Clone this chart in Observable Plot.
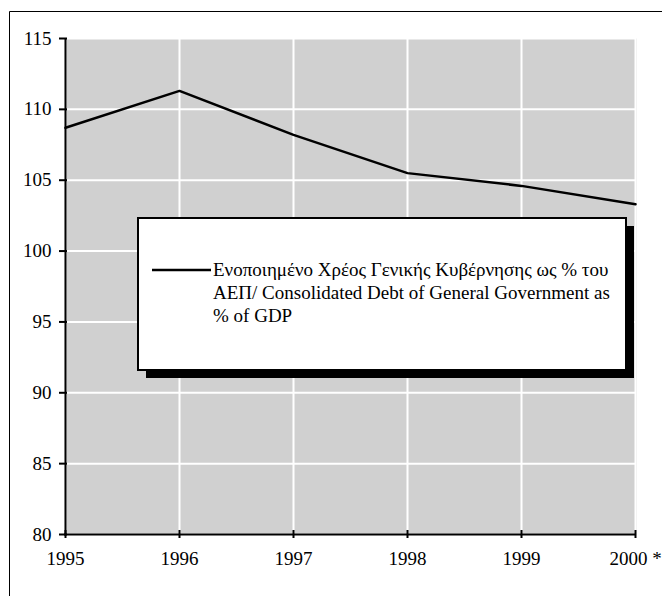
<!DOCTYPE html>
<html>
<head>
<meta charset="utf-8">
<script src="https://cdn.jsdelivr.net/npm/d3@7"></script>
<script src="https://cdn.jsdelivr.net/npm/@observablehq/plot@0.6"></script>
<style>
  html, body { margin: 0; padding: 0; background: white; }
  #chart { position: relative; width: 662px; height: 596px; overflow: hidden; }
</style>
</head>
<body>
<div id="chart"></div>
<script>
// ---- data ----
const years = ["1995", "1996", "1997", "1998", "1999", "2000 *"];
const debt = [108.7, 111.3, 108.2, 105.5, 104.6, 103.3];
const yTicks = [80, 85, 90, 95, 100, 105, 110, 115];
const legendLines = [
  "Ενοποιημένο Χρέος Γενικής Κυβέρνησης ως % του",
  "ΑΕΠ/ Consolidated Debt of General Government as",
  "% of GDP"
];

const data = years.map((y, i) => ({year: y, value: debt[i]}));
const font = "'Liberation Serif', 'Times New Roman', 'DejaVu Serif', serif";

const chart = Plot.plot({
  width: 662,
  height: 596,
  marginLeft: 64,
  marginRight: 26,
  marginTop: 38,
  marginBottom: 62,
  style: {fontSize: "19px", background: "white", color: "black", overflow: "visible"},
  x: {type: "point", domain: years, padding: 0, label: null},
  y: {domain: [80, 115], ticks: yTicks, label: null},
  marks: [
    Plot.frame({fill: "url(#dots)", stroke: "none"}),
    Plot.gridX(years, {stroke: "white", strokeOpacity: 1, strokeWidth: 2}),
    Plot.gridY(yTicks, {stroke: "white", strokeOpacity: 1, strokeWidth: 2}),
    Plot.ruleX([years[0]], {stroke: "black", strokeWidth: 2}),
    Plot.ruleY([80], {stroke: "black", strokeWidth: 2}),
    Plot.axisY({ticks: yTicks, tickSize: 8, dx: 3, tickPadding: 8, strokeWidth: 2, fontSize: 19, label: null}),
    Plot.axisX({tickSize: 8, dy: -4, tickPadding: 13, strokeWidth: 2, fontSize: 19, label: null}),
    Plot.line(data, {x: "year", y: "value", stroke: "black", strokeWidth: 2.5})
  ]
});

const svg = d3.select(chart);
const defs = svg.insert("defs", ":first-child");
const pat = defs.append("pattern")
  .attr("id", "dots").attr("patternUnits", "userSpaceOnUse")
  .attr("width", 2).attr("height", 2);
pat.append("rect").attr("width", 2).attr("height", 2).attr("fill", "white");
pat.append("rect").attr("x", 0).attr("y", 0).attr("width", 1).attr("height", 1).attr("fill", "#a0a0a0");
pat.append("rect").attr("x", 1).attr("y", 1).attr("width", 1).attr("height", 1).attr("fill", "#a0a0a0");

// outer frame (top and left edges visible)
svg.append("path").attr("d", "M9.5,596V11.5H662").attr("fill", "none").attr("stroke", "black").attr("stroke-width", 1);

// legend box with drop shadow
const lg = svg.append("g");
const bx = 138, by = 218, bw = 488, bh = 152;
lg.append("rect").attr("x", bx + 8).attr("y", by + 8).attr("width", bw).attr("height", bh).attr("fill", "black");
lg.append("rect").attr("x", bx).attr("y", by).attr("width", bw).attr("height", bh)
  .attr("fill", "white").attr("stroke", "black").attr("stroke-width", 2);
lg.append("line").attr("x1", 152).attr("x2", 211).attr("y1", 270).attr("y2", 270)
  .attr("stroke", "black").attr("stroke-width", 2.5);
lg.selectAll("text.leg").data(legendLines).join("text")
  .attr("class", "leg")
  .attr("x", 213)
  .attr("y", (d, i) => 276 + i * 23)
  .attr("text-anchor", "start")
  .attr("font-size", 19)
  .attr("fill", "black")
  .text(d => d);

svg.style("font-family", font);
svg.selectAll("text").style("font-family", font);

document.getElementById("chart").appendChild(chart);
</script>
</body>
</html>
